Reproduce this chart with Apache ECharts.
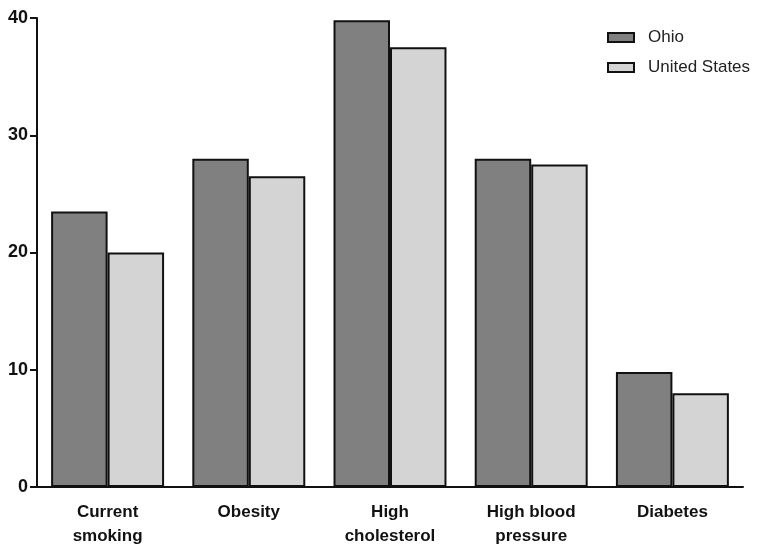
<!DOCTYPE html>
<html><head><meta charset="utf-8">
<script src="https://cdn.jsdelivr.net/npm/echarts@6/dist/echarts.min.js"></script>
<style>html,body{margin:0;padding:0;background:#fff;overflow:hidden}#c{width:761px;height:548px}</style>
</head><body><div id="c"></div>
<script>
const categories = ['Current\nsmoking', 'Obesity', 'High\ncholesterol', 'High blood\npressure', 'Diabetes'];
const ohio = [23.5, 28.0, 39.8, 28.0, 9.8];
const unitedStates = [20.0, 26.5, 37.5, 27.5, 8.0];
const yTicks = [0, 10, 20, 30, 40];

const chart = echarts.init(document.getElementById('c'));
const font = 'Liberation Sans, Arial, sans-serif';
chart.setOption({
  animation: false,
  backgroundColor: '#fff',
  grid: { left: 37, right: 18, top: 18, bottom: 52, containLabel: false },
  legend: {
    orient: 'vertical', left: 607, top: 29, padding: 0, itemWidth: 26, itemHeight: 9, itemGap: 13,
    icon: 'rect',
    textStyle: { fontFamily: font, fontSize: 17, color: '#222', padding: [0, 0, 0, 9] },
    data: ['Ohio', 'United States']
  },
  xAxis: {
    type: 'category', data: categories,
    axisLine: { lineStyle: { color: '#111', width: 2 } },
    axisTick: { show: false },
    axisLabel: { fontFamily: font, fontSize: 17, fontWeight: 'bold', color: '#111', margin: 13, lineHeight: 24 }
  },
  yAxis: {
    type: 'value', min: yTicks[0], max: yTicks[yTicks.length - 1], interval: 10,
    splitLine: { show: false },
    axisLine: { show: true, lineStyle: { color: '#111', width: 2 } },
    axisTick: { show: true, inside: false, length: 7, lineStyle: { color: '#111', width: 2 } },
    axisLabel: { fontFamily: font, fontSize: 18, fontWeight: 'bold', color: '#111', margin: 9 }
  },
  series: [
    { name: 'Ohio', type: 'bar', data: ohio, barGap: '0%', barCategoryGap: '20%',
      itemStyle: { color: '#808080', borderColor: '#111', borderWidth: 2 } },
    { name: 'United States', type: 'bar', data: unitedStates, barGap: '0%', barCategoryGap: '20%',
      itemStyle: { color: '#d4d4d4', borderColor: '#111', borderWidth: 2 } }
  ]
});
</script></body></html>
